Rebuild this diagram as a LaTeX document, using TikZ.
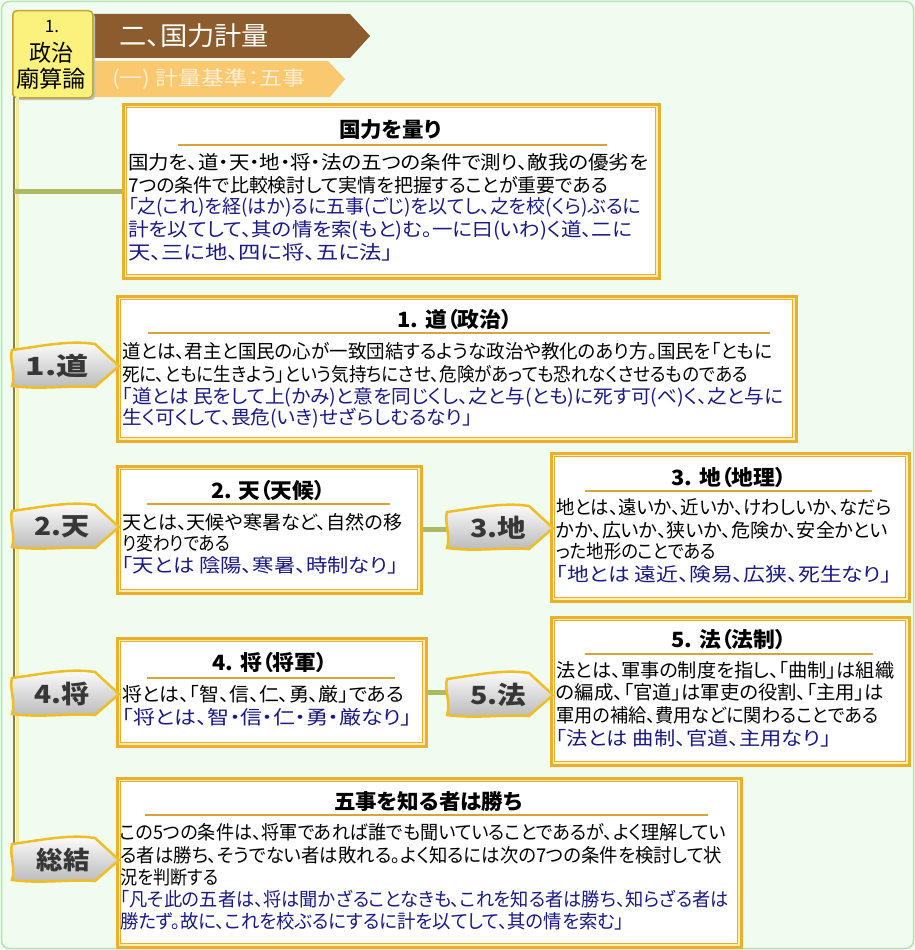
\documentclass[tikz,border=0pt]{standalone}
\usepackage{fontspec}
\setmainfont{Noto Sans CJK JP}[RawFeature=+palt]
\usepackage{graphicx}

\definecolor{bgc}{RGB}{240,252,240}
\definecolor{bgborder}{RGB}{185,225,185}
\definecolor{hdrbrown}{RGB}{140,92,45}
\definecolor{hdrorange}{RGB}{250,200,110}
\definecolor{hdrtext}{RGB}{255,238,215}
\definecolor{ybox}{RGB}{250,242,125}
\definecolor{yboxborder}{RGB}{195,165,50}
\definecolor{boxorange}{RGB}{235,175,45}
\definecolor{gapyellow}{RGB}{255,238,175}
\definecolor{uline}{RGB}{215,165,55}
\definecolor{qblue}{RGB}{25,25,135}
\definecolor{trunkc}{RGB}{140,130,65}
\definecolor{trunkhl}{RGB}{240,235,160}
\definecolor{connc}{RGB}{175,185,100}
\definecolor{tagborder}{RGB}{240,190,35}
\definecolor{tagtext}{RGB}{55,55,55}

\newlength\fitlen
\newcommand\fitto[2]{\settowidth{\fitlen}{#2}\pgfmathsetmacro\fitfac{(#1)/\fitlen}\scalebox{\fitfac}[1]{#2}}
\newcommand\tline[6][black]{\node[tl,text=#1] (#2) at (#3,#4) {\fitto{#5-#3}{#6}};}
\newcommand\ttitle[5]{\node[titlestyle] (#1) at (#2,#3) {\fitto{#4}{#5}};}
\newcommand\drawtag[6]{%
  \path[tagshape] (#2,#4-16) .. controls (#2+30,#4-20) and (#3-50,#4-26) .. (#3-24,#4-22)
     -- (#3,#4) -- (#3-24,#4+21) .. controls (#3-50,#4+19) and (#2+30,#4+24) .. (#2,#4+20)
     .. controls (#2+4,#4+8) and (#2-3,#4-6) .. cycle;
  \node[tagtxt] (#1) at (#5,#4) {#6};}

\tikzset{
  box/.style={draw=boxorange, line width=2.5, fill=gapyellow, anchor=north west, inner sep=0,
    path picture={\draw[boxorange, line width=1, fill=white]
      ([shift={(3.5pt,-3.5pt)}]path picture bounding box.north west) rectangle
      ([shift={(-3.5pt,3.5pt)}]path picture bounding box.south east);}},
  tl/.style={anchor=west, inner sep=0, font=\fontsize{19}{23}\selectfont},
  titlestyle/.style={anchor=center, inner sep=0, font=\bfseries\fontsize{21}{25}\selectfont},
  uln/.style={uline, line width=2.5},
  tagshape/.style={draw=tagborder, line width=2.5, top color=white, middle color=white, bottom color=black!28},
  tagtxt/.style={inner sep=0, text=tagtext, font=\bfseries\fontsize{25}{29}\selectfont},
  conn/.style={connc, line width=5},
}

\begin{document}
\begin{tikzpicture}[x=1pt,y=-1pt]
\useasboundingbox (0,0) rectangle (915,950);
\fill[bgc] (0,0) rectangle (915,950);
\draw[bgborder, line width=1.5, rounded corners=8] (1.5,1.5) rectangle (913.5,948.5);

% header banners
\fill[hdrbrown] (90,14) -- (350,14) -- (370,36) -- (350,58) -- (90,58) -- cycle;
\fill[hdrorange] (90,61) -- (328,61) -- (345,79) -- (330,97) -- (90,97) -- cycle;
\node[anchor=west, inner sep=0, text=white, font=\fontsize{26}{30}\selectfont] (h1) at (119,36) {\fitto{150}{二、国力計量}};
\node[anchor=west, inner sep=0, text=hdrtext, font=\fontsize{20}{23}\selectfont] (h2) at (112,79) {\fitto{193}{(一) 計量基準：五事}};

% yellow header box
\fill[black!25, rounded corners=4] (15,13) rectangle (95,100);
\node[draw=yboxborder, fill=ybox, line width=1.5, rounded corners=4, anchor=north west,
      minimum width=80, minimum height=87, inner sep=0] (ybox) at (12,10) {};
\node[inner sep=0, font=\fontsize{17}{20}\selectfont] (y1) at (52,27) {1.};
\node[inner sep=0, font=\fontsize{23}{26}\selectfont] (y2) at (51,53) {\fitto{44}{政治}};
\node[inner sep=0, font=\fontsize{23}{26}\selectfont] (y3) at (51,79) {\fitto{70}{廟算論}};

% trunk
\coordinate (ttop) at (14,97);
\coordinate (tbot) at (14,846);
\draw[trunkhl, line width=3] ([xshift=3pt]ttop) -- ([xshift=3pt]tbot);
\draw[trunkc, line width=2.5] (ttop) -- (tbot);

% boxes
\node[box, minimum width=536, minimum height=174] (b0) at (122,103) {};
\node[box, minimum width=679, minimum height=145] (b1) at (116,295) {};
\node[box, minimum width=304, minimum height=127] (b2) at (116,465) {};
\node[box, minimum width=358, minimum height=148] (b3) at (550,452) {};
\node[box, minimum width=309, minimum height=108] (b4) at (116,637) {};
\node[box, minimum width=358, minimum height=148] (b5) at (550,616) {};
\node[box, minimum width=624, minimum height=169] (b6) at (116,777) {};

% connectors
\coordinate (tag3w) at (452,528);
\coordinate (tag5w) at (452,694);
\draw[conn] (ttop |- b0.west) -- (b0.west);
\draw[conn] (b2.east) -- (b2.east -| tag3w);
\draw[conn] (b4.east) -- (b4.east -| tag5w);

% tags
\drawtag{tag1}{12}{119}{366}{57}{\fitto{63}{1.道}}
\drawtag{tag2}{12}{119}{527}{62}{\fitto{55}{2.天}}
\drawtag{tag3}{447}{553}{528}{498}{\fitto{56}{3.地}}
\drawtag{tag4}{12}{119}{694}{62}{\fitto{55}{4.将}}
\drawtag{tag5}{447}{553}{695}{498}{\fitto{56}{5.法}}
\drawtag{tag6}{12}{119}{860}{63}{\fitto{53}{総結}}

% box 0
\ttitle{t0}{390}{130}{102}{国力を量り}
\draw[uln] (178,145) -- (607,145);
\tline{b0l1}{128}{162}{648}{国力を、道・天・地・将・法の五つの条件で測り、敵我の優劣を}
\tline{b0l2}{128}{185}{608}{7つの条件で比較検討して実情を把握することが重要である}
\tline[qblue]{b0l3}{128}{207}{641}{「之(これ)を経(はか)るに五事(ごじ)を以てし、之を校(くら)ぶるに}
\tline[qblue]{b0l4}{128}{230}{632}{計を以てして、其の情を索(もと)む。一に曰(いわ)く道、二に}
\tline[qblue]{b0l5}{128}{252}{393}{天、三に地、四に将、五に法」}

% box 1
\ttitle{t1}{455}{320}{115}{1. 道（政治）}
\draw[uln] (148,333) -- (770,333);
\tline{b1l1}{122}{351}{772}{道とは、君主と国民の心が一致団結するような政治や教化のあり方。国民を「ともに}
\tline{b1l2}{122}{374}{748}{死に、ともに生きよう」という気持ちにさせ、危険があっても恐れなくさせるものである}
\tline[qblue]{b1l3}{122}{397}{783}{「道とは 民をして上(かみ)と意を同じくし、之と与(とも)に死す可(べ)く、之と与に}
\tline[qblue]{b1l4}{122}{418}{472}{生く可くして、畏危(いき)せざらしむるなり」}

% box 2
\ttitle{t2}{268}{491}{114}{2. 天（天候）}
\draw[uln] (147,504) -- (390,504);
\tline{b2l1}{122}{522}{402}{天とは、天候や寒暑など、自然の移}
\tline{b2l2}{122}{543}{230}{り変わりである}
\tline[qblue]{b2l3}{122}{565}{398}{「天とは 陰陽、寒暑、時制なり」}

% box 3
\ttitle{t3}{729}{478}{115}{3. 地（地理）}
\draw[uln] (585,491) -- (872,491);
\tline{b3l1}{556}{507}{892}{地とは、遠いか、近いか、けわしいか、なだら}
\tline{b3l2}{556}{530}{888}{かか、広いか、狭いか、危険か、安全かとい}
\tline{b3l3}{556}{551}{716}{った地形のことである}
\tline[qblue]{b3l4}{556}{574}{892}{「地とは 遠近、険易、広狭、死生なり」}

% box 4
\ttitle{t4}{270}{663}{115}{4. 将（将軍）}
\draw[uln] (147,678) -- (395,678);
\tline{b4l1}{122}{694}{404}{将とは、「智、信、仁、勇、厳」である}
\tline[qblue]{b4l2}{122}{717}{412}{「将とは、智・信・仁・勇・厳なり」}

% box 5
\ttitle{t5}{729}{640}{115}{5. 法（法制）}
\draw[uln] (585,654) -- (873,654);
\tline{b5l1}{556}{670}{894}{法とは、軍事の制度を指し、「曲制」は組織}
\tline{b5l2}{556}{692}{884}{の編成、「官道」は軍吏の役割、「主用」は}
\tline{b5l3}{556}{715}{878}{軍用の補給、費用などに関わることである}
\tline[qblue]{b5l4}{556}{738}{831}{「法とは 曲制、官道、主用なり」}

% box 6
\ttitle{t6}{428}{802}{188}{五事を知る者は勝ち}
\draw[uln] (145,815) -- (708,815);
\tline{b6l1}{120}{832}{726}{この5つの条件は、将軍であれば誰でも聞いていることであるが、よく理解してい}
\tline{b6l2}{120}{855}{722}{る者は勝ち、そうでない者は敗れる。よく知るには次の7つの条件を検討して状}
\tline{b6l3}{120}{877}{218}{況を判断する}
\tline[qblue]{b6l4}{120}{899}{729}{「凡そ此の五者は、将は聞かざることなきも、これを知る者は勝ち、知らざる者は}
\tline[qblue]{b6l5}{120}{921}{624}{勝たず。故に、これを校ぶるにするに計を以てして、其の情を索む」}
\end{tikzpicture}
\end{document}
